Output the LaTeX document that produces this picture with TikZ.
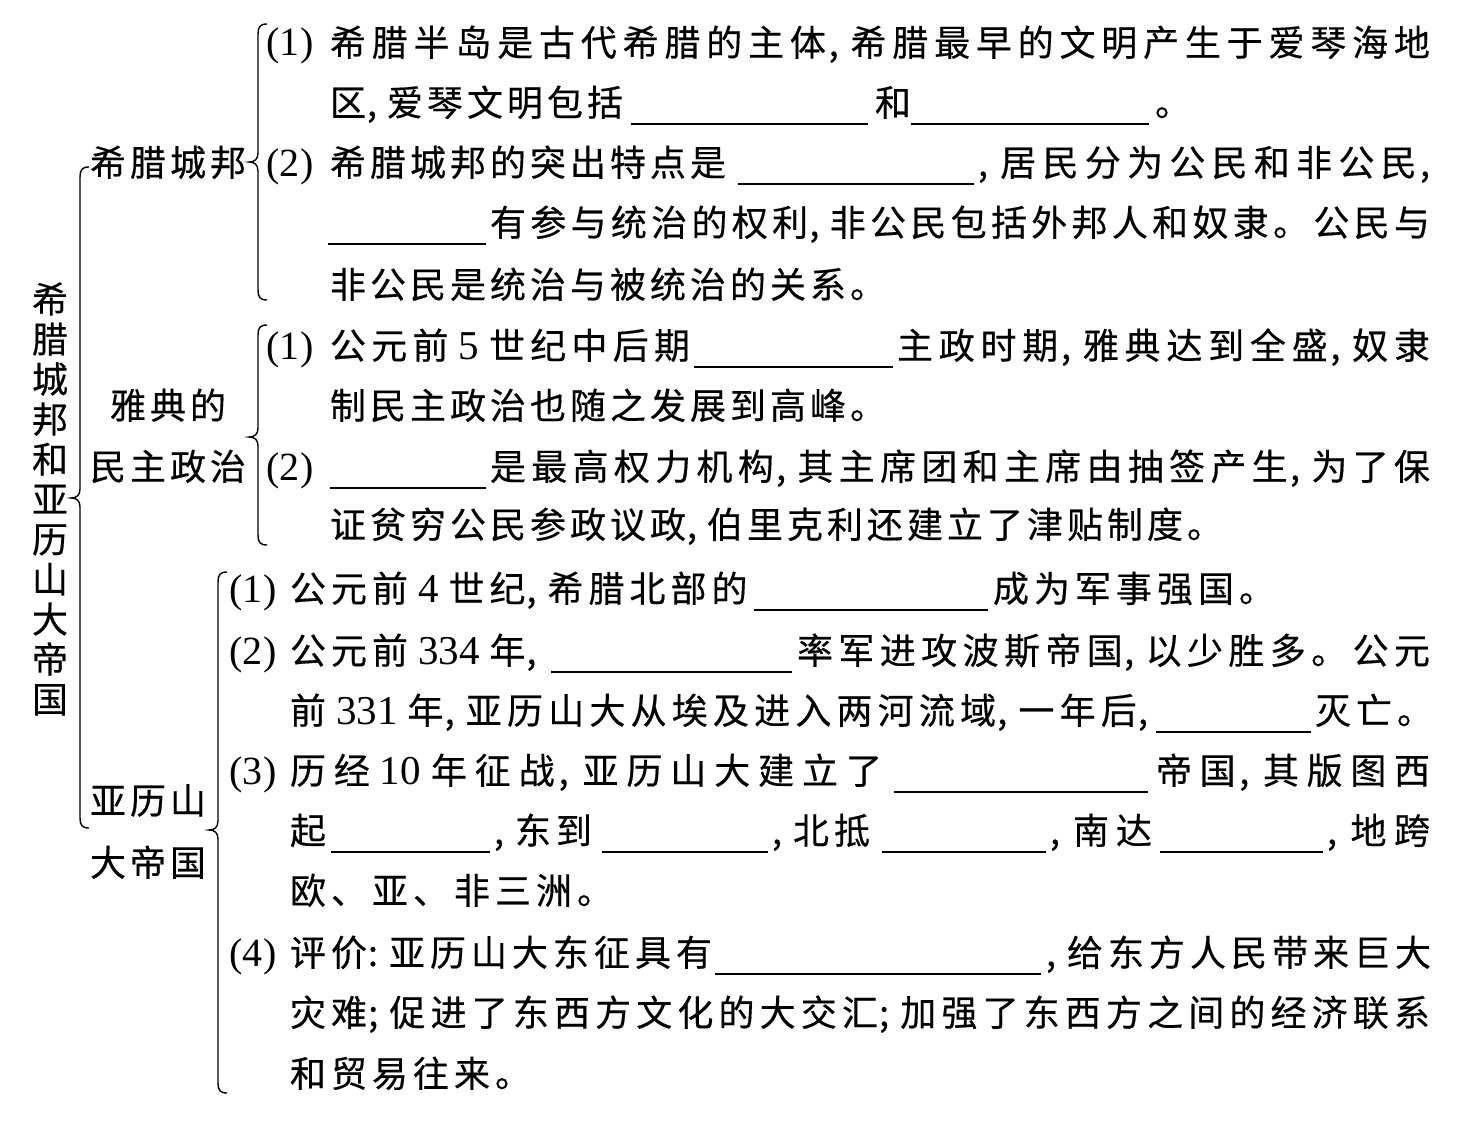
\documentclass[tikz,border=0pt]{standalone}
\usepackage{fontspec}
\setmainfont{Liberation Serif}
\newfontfamily\cjk[FakeBold=0.4]{Noto Sans CJK SC}
\newdimen\cjkgap \cjkgap=4pt
\newcount\cc
\cc="4E00
\loop \XeTeXcharclass\cc=7 \advance\cc by 1 \ifnum\cc<"A000 \repeat
\cc="3001
\loop \XeTeXcharclass\cc=8 \advance\cc by 1 \ifnum\cc<"3040 \repeat
\XeTeXcharclass`\,=9
\XeTeXcharclass`\:=9
\XeTeXcharclass`\;=9
\XeTeXinterchartokenstate=1
\XeTeXinterchartoks 7 7 = {\hskip\cjkgap plus 1fil\relax}
\XeTeXinterchartoks 7 8 = {\hskip\cjkgap plus 1fil\relax}
\XeTeXinterchartoks 8 7 = {\hskip\cjkgap plus 1fil\relax}
\XeTeXinterchartoks 7 9 = {\hskip1pt plus 1fil\relax}
\XeTeXinterchartoks 9 7 = {\hskip\cjkgap plus 1fil\hskip6pt\relax}
\newcommand\jb[2]{\makebox[#1pt][s]{#2}}
\newcommand\num[1]{\hskip10pt{\fontsize{41}{40}\selectfont\rmfamily #1}\hskip10pt\relax}
\newcommand\pn[1]{\makebox[48pt][s]{\fontsize{40}{40}\selectfont\rmfamily(\hfil #1\hfil)}}
\tikzset{
  secA/.style={anchor=base west,inner sep=0pt,outer sep=0pt,font={\fontsize{36}{40}\selectfont\cjk\cjkgap=4pt}},
  secB/.style={anchor=base west,inner sep=0pt,outer sep=0pt,font={\fontsize{36}{40}\selectfont\cjk\cjkgap=5pt}},
  lbl/.style={anchor=base west,inner sep=0pt,outer sep=0pt,font={\fontsize{36}{40}\selectfont\cjk\cjkgap=4pt}},
  blankline/.style={line width=1.4pt},
  brc/.style={line width=1.4pt},
}
\newcommand\brc[4]{%
 \draw[brc] ({#1+9},{#2}) .. controls ({#1+2},{#2}) and ({#1},{#2+3}) .. ({#1},{#2+10})
  -- ({#1},{#3-9}) .. controls ({#1},{#3-3}) and ({#1-3},{#3}) .. ({#1-9},{#3})
  .. controls ({#1-3},{#3}) and ({#1},{#3+3}) .. ({#1},{#3+9})
  -- ({#1},{#4-10}) .. controls ({#1},{#4-3}) and ({#1+2},{#4}) .. ({#1+9},{#4});}
\begin{document}
\begin{tikzpicture}[x=1pt,y=-1pt]
\useasboundingbox[fill=white] (0,0) rectangle (1478,1129);
% braces
\brc{80}{167}{498}{828}
\brc{258}{24}{162}{300}
\brc{258}{325}{437}{545}
\brc{218}{572}{830}{1093}
% left labels
\node[inner sep=0pt,align=center,font={\fontsize{36}{40}\selectfont\cjk}] (title) at (50,499)
  {希\\腊\\城\\邦\\和\\亚\\历\\山\\大\\帝\\国};
\node[lbl] (k1) at (90,176) {希腊城邦};
\node[lbl] (k2a) at (110,419) {雅典的};
\node[lbl] (k2b) at (90,480) {民主政治};
\node[lbl] (k3a) at (90,814) {亚历山};
\node[lbl] (k3b) at (90,876) {大帝国};
% section 1
\node[secA] (p11) at (266,56) {\pn{1}};
\node[secA] (t11) at (330,56) {\jb{1100}{希腊半岛是古代希腊的主体,希腊最早的文明产生于爱琴海地}};
\node[secA] (t12a) at (330,116) {\jb{292}{区,爱琴文明包括}};
\draw[blankline] (631,124) -- (868,124);
\node[secA] (t12b) at (875,116) {和};
\draw[blankline] (911,124) -- (1149,124);
\node[secA] (t12c) at (1155,116) {。};
\node[secA] (p12) at (266,176) {\pn{2}};
\node[secA] (t13a) at (330,176) {希腊城邦的突出特点是};
\draw[blankline] (738,184) -- (974,184);
\node[secA] (t13b) at (978,176) {\jb{452}{,居民分为公民和非公民,}};
\draw[blankline] (328,244) -- (486,244);
\node[secA] (t14) at (490,236) {\jb{940}{有参与统治的权利,非公民包括外邦人和奴隶。公民与}};
\node[secA] (t15) at (330,298) {非公民是统治与被统治的关系。};
% section 2
\node[secA] (p21) at (266,359) {\pn{1}};
\node[secA] (t21a) at (330,359) {\jb{360}{公元前\num{5}世纪中后期}};
\draw[blankline] (694,367) -- (893,367);
\node[secA] (t21b) at (897,359) {\jb{533}{主政时期,雅典达到全盛,奴隶}};
\node[secA] (t22) at (330,419) {制民主政治也随之发展到高峰。};
\node[secA] (p22) at (266,480) {\pn{2}};
\draw[blankline] (330,488) -- (486,488);
\node[secA] (t23) at (490,480) {\jb{940}{是最高权力机构,其主席团和主席由抽签产生,为了保}};
\node[secA] (t24) at (330,538) {证贫穷公民参政议政,伯里克利还建立了津贴制度。};
% section 3
\node[secB] (p31) at (229,602) {\pn{1}};
\node[secB] (t31a) at (290,602) {\jb{453}{公元前\num{4}世纪,希腊北部的}};
\draw[blankline] (754,610) -- (988,610);
\node[secB] (t31b) at (993,602) {成为军事强国。};
\node[secB] (p32) at (229,664) {\pn{2}};
\node[secB] (t32a) at (290,664) {公元前\num{334}年,};
\draw[blankline] (551,672) -- (792,672);
\node[secB] (t32b) at (797,664) {\jb{633}{率军进攻波斯帝国,以少胜多。公元}};
\node[secB] (t33a) at (290,724) {\jb{858}{前\num{331}年,亚历山大从埃及进入两河流域,一年后,}};
\draw[blankline] (1156,732) -- (1311,732);
\node[secB] (t33b) at (1315,724) {灭亡。};
\node[secB] (p33) at (229,784) {\pn{3}};
\node[secB] (t34a) at (290,784) {\jb{592}{历经\num{10}年征战,亚历山大建立了}};
\draw[blankline] (894,792) -- (1148,792);
\node[secB] (t34b) at (1156,784) {\jb{274}{帝国,其版图西}};
\node[secB] (t35a) at (290,844) {起};
\draw[blankline] (331,852) -- (490,852);
\node[secB] (t35b) at (494,844) {\jb{98}{,东到}};
\draw[blankline] (602,852) -- (768,852);
\node[secB] (t35c) at (772,844) {\jb{98}{,北抵}};
\draw[blankline] (882,852) -- (1046,852);
\node[secB] (t35d) at (1050,844) {\jb{102}{,南达}};
\draw[blankline] (1160,852) -- (1323,852);
\node[secB] (t35e) at (1327,844) {\jb{103}{,地跨}};
\node[secB] (t36) at (290,904) {欧、亚、非三洲。};
\node[secB] (p34) at (229,966) {\pn{4}};
\node[secB] (t37a) at (290,966) {\jb{417}{评价:亚历山大东征具有}};
\draw[blankline] (715,974) -- (1041,974);
\node[secB] (t37b) at (1046,966) {\jb{384}{,给东方人民带来巨大}};
\node[secB] (t38) at (290,1026) {\jb{1140}{灾难;促进了东西方文化的大交汇;加强了东西方之间的经济联系}};
\node[secB] (t39) at (290,1087) {和贸易往来。};
\end{tikzpicture}
\end{document}
